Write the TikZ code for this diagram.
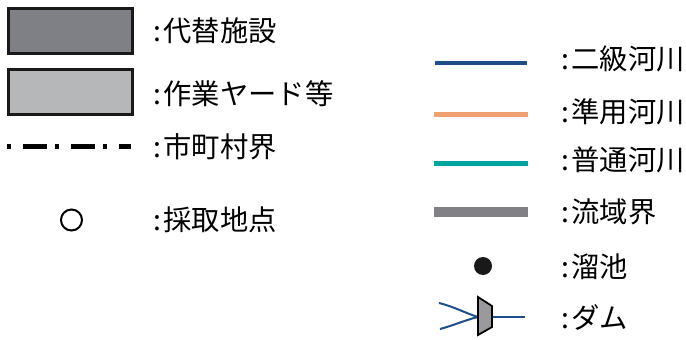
\documentclass[tikz,border=0pt]{standalone}
\usepackage{fontspec}
\newfontfamily\cjk{Noto Sans CJK JP}
\definecolor{facdark}{HTML}{7F8085}
\definecolor{faclight}{HTML}{B6B7B9}
\definecolor{rivblue}{HTML}{1F4E89}
\definecolor{rivorange}{HTML}{F0A070}
\definecolor{rivteal}{HTML}{00A5A0}
\definecolor{basingray}{HTML}{808085}
\definecolor{damgray}{HTML}{9A9A9E}
\newcommand{\cl}{:\hspace{2.5pt}}
\begin{document}
\begin{tikzpicture}[x=1pt,y=-1pt,
  lbl/.style={anchor=west,inner sep=0pt,font=\cjk\fontsize{28.3}{28.3}\selectfont},
  facbox/.style={draw=black!90,line width=3pt}]
\useasboundingbox (0,0) rectangle (686,340);
% left column
\node[facbox,fill=facdark,minimum width=124pt,minimum height=45pt,inner sep=0pt] (b1) at (70,31) {};
\node[facbox,fill=faclight,minimum width=124pt,minimum height=45pt,inner sep=0pt] (b2) at (70.5,92) {};
\coordinate (m1) at (7,146);
\coordinate (m2) at (131,146);
\draw[line width=5pt,dash pattern=on 3.5pt off 12.5pt on 24pt off 8pt] (m1) -- (m2);
\node[draw,circle,line width=2pt,minimum size=21pt,inner sep=0pt] (pt) at (71.5,220) {};
\node[lbl] (t1) at (153,31) {\cl 代替施設};
\node[lbl] (t2) at (153,94) {\cl 作業ヤード等};
\node[lbl] (t3) at (153,147) {\cl 市町村界};
\node[lbl] (t4) at (153,220) {\cl 採取地点};
% right column
\coordinate (r1a) at (435,63); \coordinate (r1b) at (527,63);
\draw[rivblue,line width=3.5pt] (r1a) -- (r1b);
\coordinate (r2a) at (434,114); \coordinate (r2b) at (528,114);
\draw[rivorange,line width=5pt] (r2a) -- (r2b);
\coordinate (r3a) at (434,163); \coordinate (r3b) at (528,163);
\draw[rivteal,line width=5pt] (r3a) -- (r3b);
\coordinate (r4a) at (434,212); \coordinate (r4b) at (528,212);
\draw[basingray,line width=10pt] (r4a) -- (r4b);
\node[circle,fill=black!90,minimum size=18pt,inner sep=0pt] (pond) at (483,266) {};
% dam
\coordinate (d1) at (439,303);
\coordinate (d2) at (440,329);
\coordinate (dj) at (478,317);
\coordinate (de) at (525,317);
\draw[rivblue,line width=2pt] (d1) .. controls (455,307) and (465,313) .. (dj);
\draw[rivblue,line width=2pt] (d2) .. controls (455,325) and (465,320) .. (dj);
\draw[rivblue,line width=2pt] (dj) -- (de);
\draw[fill=damgray,line width=1.8pt,line join=miter] (478,297) -- (492,306) -- (492,327) -- (478,335) -- cycle;
\node[lbl] (s1) at (561,59) {\cl 二級河川};
\node[lbl] (s2) at (561,112) {\cl 準用河川};
\node[lbl] (s3) at (561,160) {\cl 普通河川};
\node[lbl] (s4) at (561,212) {\cl 流域界};
\node[lbl] (s5) at (561,267) {\cl 溜池};
\node[lbl] (s6) at (561,317) {\cl ダム};
\end{tikzpicture}
\end{document}
